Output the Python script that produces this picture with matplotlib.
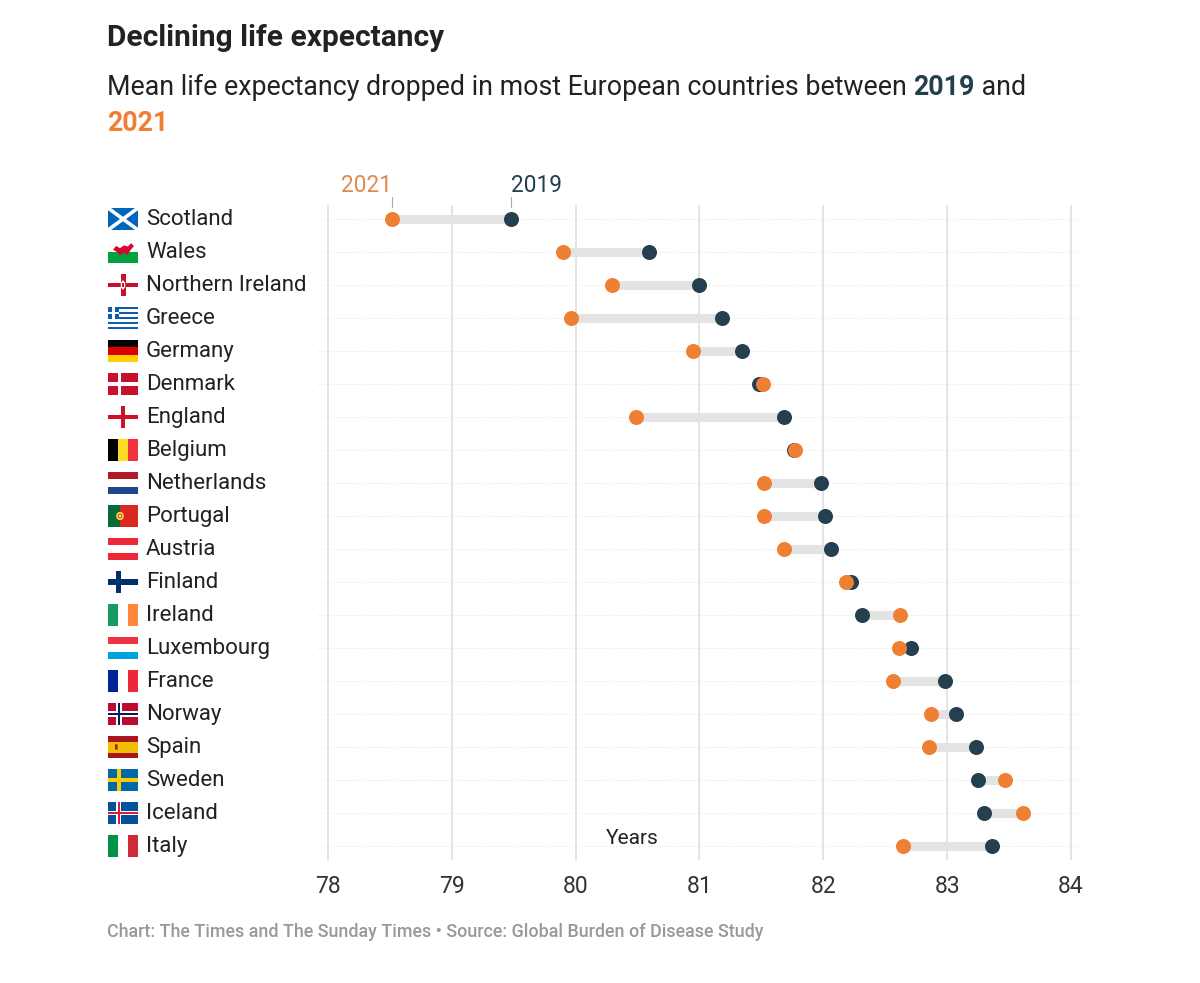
import matplotlib.pyplot as plt
from matplotlib.patches import Rectangle, Polygon, Circle

plt.rcParams['font.family'] = ['Roboto', 'DejaVu Sans']

# Data
countries = ['Scotland', 'Wales', 'Northern Ireland', 'Greece', 'Germany', 'Denmark',
             'England', 'Belgium', 'Netherlands', 'Portugal', 'Austria', 'Finland',
             'Ireland', 'Luxembourg', 'France', 'Norway', 'Spain', 'Sweden', 'Iceland', 'Italy']
le_2019 = [79.48, 80.59, 81.00, 81.18, 81.34, 81.48, 81.68, 81.76, 81.98, 82.01,
           82.06, 82.22, 82.31, 82.71, 82.98, 83.07, 83.23, 83.25, 83.30, 83.36]
le_2021 = [78.52, 79.90, 80.29, 79.96, 80.95, 81.51, 80.49, 81.77, 81.52, 81.52,
           81.68, 82.18, 82.62, 82.61, 82.56, 82.87, 82.85, 83.47, 83.61, 82.64]
x_ticks = [78, 79, 80, 81, 82, 83, 84]

ORANGE = '#ee7f33'
DARK = '#243f4d'
W, H = 1200, 983


def fx(px):
    return px / W


def fy(py):
    return 1 - py / H


fig = plt.figure(figsize=(W / 100, H / 100), dpi=100)

# main axes
ax = fig.add_axes([fx(318), fy(860), 762 / W, 655 / H])
n = len(countries)
rows = list(range(n))
ax.set_xlim(77.919, 84.073)
ax.set_ylim(19.424, -0.424)

for v in x_ticks:
    ax.axvline(v, color='#e4e4e4', lw=1.4, zorder=0)
for r in rows:
    ax.axhline(r, color='#e0e0e0', lw=0.7, ls=(0, (1, 2)), zorder=0)

for r, a, b in zip(rows, le_2019, le_2021):
    ax.plot([a, b], [r, r], color='#e3e3e3', lw=6.5, solid_capstyle='butt', zorder=1)
ax.plot(le_2019, rows, 'o', color=DARK, ms=10.8, mec='none', zorder=2)
ax.plot(le_2021, rows, 'o', color=ORANGE, ms=10.8, mec='none', zorder=3)

ax.set_xticks(x_ticks)
ax.set_xticklabels([str(v) for v in x_ticks], fontsize=16.5, color='#333333')
ax.tick_params(axis='x', length=0, pad=11)
ax.set_yticks([])
for s in ax.spines.values():
    s.set_visible(False)

# year labels over the first row
ax.text(le_2021[0], -1.0, '2021', ha='right', va='center', fontsize=16.3, color='#e08a4c')
ax.text(le_2019[0], -1.0, '2019', ha='left', va='center', fontsize=16.3, color=DARK)
ax.plot([le_2021[0]] * 2, [-0.667, -0.36], color='#aaaaaa', lw=0.8, clip_on=False)
ax.plot([le_2019[0]] * 2, [-0.667, -0.36], color='#aaaaaa', lw=0.8, clip_on=False)

ax.text(80.46, 18.76, 'Years', ha='center', va='center', fontsize=15, color='#222222')


# flags
def rect(fa, x, y, w, h, c):
    fa.add_patch(Rectangle((x, y), w, h, color=c, lw=0))


def hstripes(fa, cols):
    h = 2 / len(cols)
    for i, c in enumerate(cols):
        rect(fa, 0, 2 - (i + 1) * h, 3, h, c)


def vstripes(fa, cols):
    w = 3 / len(cols)
    for i, c in enumerate(cols):
        rect(fa, i * w, 0, w, 2, c)


def nordic(fa, bg, cross, x0, x1, y0, y1, inner=None, ix=None, iy=None):
    rect(fa, 0, 0, 3, 2, bg)
    rect(fa, x0, 0, x1 - x0, 2, cross)
    rect(fa, 0, y0, 3, y1 - y0, cross)
    if inner:
        rect(fa, ix[0], 0, ix[1] - ix[0], 2, inner)
        rect(fa, 0, iy[0], 3, iy[1] - iy[0], inner)


def draw_flag(fa, name):
    if name == 'Scotland':
        rect(fa, 0, 0, 3, 2, '#0065bd')
        fa.plot([0, 3], [0, 2], color='white', lw=2.6, solid_capstyle='butt')
        fa.plot([0, 3], [2, 0], color='white', lw=2.6, solid_capstyle='butt')
    elif name == 'Wales':
        rect(fa, 0, 1, 3, 1, 'white')
        rect(fa, 0, 0, 3, 1, '#00a33e')
        fa.add_patch(Polygon([(0.5, 1.2), (0.8, 1.55), (1.2, 1.35), (1.6, 1.6), (2.0, 1.5),
                              (2.3, 1.8), (2.6, 1.55), (2.2, 1.1), (1.9, 0.7), (1.6, 0.95),
                              (1.2, 0.7), (0.9, 1.0)], color='#d30731', lw=0))
    elif name == 'Northern Ireland':
        rect(fa, 0, 0, 3, 2, 'white')
        rect(fa, 1.25, 0, 0.5, 2, '#c8102e')
        rect(fa, 0, 0.78, 3, 0.44, '#c8102e')
        fa.add_patch(Polygon([(1.5, 1.45), (1.72, 1.2), (1.72, 0.8), (1.5, 0.55),
                              (1.28, 0.8), (1.28, 1.2)], color='white', lw=0))
        rect(fa, 1.42, 0.85, 0.16, 0.3, '#c8102e')
    elif name == 'Greece':
        h = 2 / 9
        for i in range(9):
            rect(fa, 0, 2 - (i + 1) * h, 3, h, '#0d5eaf' if i % 2 == 0 else 'white')
        rect(fa, 0, 2 - 5 * h, 5 * h, 5 * h, '#0d5eaf')
        rect(fa, 2 * h, 2 - 5 * h, h, 5 * h, 'white')
        rect(fa, 0, 2 - 3 * h, 5 * h, h, 'white')
    elif name == 'Germany':
        hstripes(fa, ['#000000', '#dd0000', '#ffce00'])
    elif name == 'Denmark':
        nordic(fa, '#c8102e', 'white', 0.97, 1.30, 0.857, 1.143)
    elif name == 'England':
        rect(fa, 0, 0, 3, 2, 'white')
        rect(fa, 1.32, 0, 0.36, 2, '#ce1124')
        rect(fa, 0, 0.82, 3, 0.36, '#ce1124')
    elif name == 'Belgium':
        vstripes(fa, ['#000000', '#fdda24', '#ef3340'])
    elif name == 'Netherlands':
        hstripes(fa, ['#ae1c28', 'white', '#21468b'])
    elif name == 'Portugal':
        rect(fa, 0, 0, 1.2, 2, '#046a38')
        rect(fa, 1.2, 0, 1.8, 2, '#da291c')
        fa.add_patch(Circle((1.2, 1.0), 0.38, color='#ffe12d', lw=0))
        fa.add_patch(Circle((1.2, 1.0), 0.22, color='#da291c', lw=0))
        fa.add_patch(Circle((1.2, 1.0), 0.12, color='white', lw=0))
    elif name == 'Austria':
        hstripes(fa, ['#ed2939', 'white', '#ed2939'])
    elif name == 'Finland':
        nordic(fa, 'white', '#002f6c', 0.83, 1.33, 0.727, 1.273)
    elif name == 'Ireland':
        vstripes(fa, ['#169b62', 'white', '#ff883e'])
    elif name == 'Luxembourg':
        hstripes(fa, ['#ef3340', 'white', '#00a3e0'])
    elif name == 'France':
        vstripes(fa, ['#002395', 'white', '#ed2939'])
    elif name == 'Norway':
        nordic(fa, '#ba0c2f', 'white', 0.82, 1.36, 0.75, 1.25, '#00205b', (0.95, 1.23), (0.875, 1.125))
    elif name == 'Spain':
        hstripes(fa, ['#aa151b', '#f1bf00', '#f1bf00', '#aa151b'])
        rect(fa, 0.65, 0.75, 0.35, 0.5, '#c8602a')
        rect(fa, 0.72, 0.85, 0.2, 0.3, '#aa151b')
    elif name == 'Sweden':
        nordic(fa, '#006aa7', '#fecc00', 0.94, 1.31, 0.8, 1.2)
    elif name == 'Iceland':
        nordic(fa, '#02529c', 'white', 0.84, 1.32, 0.78, 1.22, '#dc1e35', (0.96, 1.20), (0.89, 1.11))
    elif name == 'Italy':
        vstripes(fa, ['#009246', 'white', '#ce2b37'])


for r, name in zip(rows, countries):
    yc = 219 + 33 * r
    fa = fig.add_axes([fx(108), fy(yc + 11), 30 / W, 22 / H])
    fa.set_xlim(0, 3)
    fa.set_ylim(0, 2)
    fa.axis('off')
    draw_flag(fa, name)
    fig.text(fx(146), fy(yc + 0.5), name, ha='left', va='center', fontsize=16, color='#222222')

# titles
fig.text(fx(107), fy(46), 'Declining life expectancy', fontsize=21.5, fontweight='bold',
         color='#222222', va='baseline')
t1 = ax.annotate('Mean life expectancy dropped in most European countries between ',
                 xy=(fx(107), fy(95)), xycoords='figure fraction', va='baseline',
                 fontsize=19.3, color='#222222', annotation_clip=False)
t2 = ax.annotate('2019', xy=(1, 0), xycoords=t1, va='bottom', fontsize=19.3,
                 fontweight='bold', color=DARK, annotation_clip=False)
ax.annotate(' and', xy=(1, 0), xycoords=t2, va='bottom', fontsize=19.3,
            color='#222222', annotation_clip=False)
fig.text(fx(107), fy(131), '2021', fontsize=19.3, fontweight='bold', color=ORANGE,
         va='baseline')

fig.text(fx(107), fy(932),
         'Chart: The Times and The Sunday Times \u2022 Source: Global Burden of Disease Study',
         fontsize=12.9, fontweight='medium', color='#999999', va='center')

fig.savefig('out.png', dpi=100, facecolor='white')
